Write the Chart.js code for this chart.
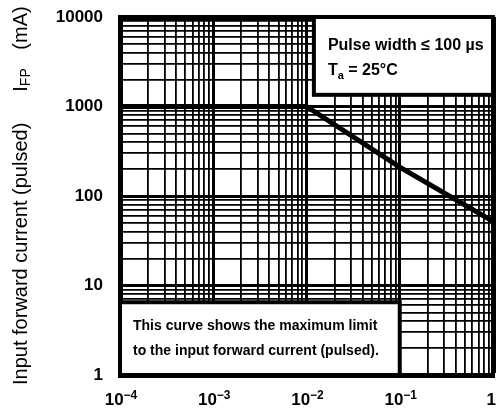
<!DOCTYPE html>
<html>
<head>
<meta charset="utf-8">
<script src="https://cdn.jsdelivr.net/npm/chart.js@4.4.0/dist/chart.umd.min.js"></script>
<style>
  html, body { margin: 0; padding: 0; background: #fff; }
  #wrap { width: 497px; height: 414px; position: relative; }
</style>
</head>
<body>
<div id="wrap"><canvas id="chart"></canvas></div>
<script>
// pulse width (s) vs. maximum pulsed forward current (mA)
const pulseWidth = [1e-4, 1e-2, 1e-1, 1];
const currentMax = [1000, 1000, 210, 52];

// decades and their labels (x labels: base + exponent)
const xDecades = [1e-4, 1e-3, 1e-2, 1e-1, 1];
const xBase = ["10", "10", "10", "10", "1"];
const xExp = ["−4", "−3", "−2", "−1", ""];
const yDecades = [1, 10, 100, 1000, 10000];
const yLabels = ["1", "10", "100", "1000", "10000"];

// texts
const noteTop = ["Pulse width ≤ 100 µs", "T", "a", " = 25°C"];
const noteBottom = ["This curve shows the maximum limit", "to the input forward current (pulsed)."];
const axisTitle = ["Input forward current (pulsed)", "I", "FP", "(mA)"];

const FONT = "'Liberation Sans', Arial, sans-serif";

// 1..9 x 10^n per decade, used for the grid
function logTicks(decades) {
  const out = [];
  for (let i = 0; i < decades.length - 1; i++) {
    for (let k = 1; k <= 9; k++) out.push(k * decades[i]);
  }
  out.push(decades[decades.length - 1]);
  return out;
}

function gridWidth(decades) {
  const last = decades[decades.length - 1];
  return (c) => {
    const v = c.tick ? c.tick.value : null;
    if (v === last) return 5;
    if (decades.indexOf(v) >= 0) return 3;
    return 1.8;
  };
}

const notesPlugin = {
  id: "notes",
  beforeDatasetsDraw(chart) {
    const { ctx, scales } = chart;
    const x = scales.x, y = scales.y;
    function box(x0, x1, y0, y1) {
      const l = x.getPixelForValue(x0), r = x.getPixelForValue(x1);
      const t = y.getPixelForValue(y1), b = y.getPixelForValue(y0);
      ctx.fillStyle = "#fff";
      ctx.fillRect(l, t, r - l, b - t);
      ctx.lineWidth = 4;
      ctx.strokeStyle = "#000";
      ctx.strokeRect(l, t, r - l, b - t);
      return { l, r, t, b };
    }
    ctx.save();
    ctx.fillStyle = "#000";
    ctx.textBaseline = "alphabetic";
    ctx.textAlign = "left";

    // top right note
    const a = box(0.012, 1, 1350, 10000);
    ctx.fillStyle = "#000";
    ctx.font = "bold 16px " + FONT;
    ctx.fillText(noteTop[0], a.l + 14, a.t + 33);
    let px = a.l + 14;
    ctx.fillText(noteTop[1], px, a.t + 58);
    px += ctx.measureText(noteTop[1]).width;
    ctx.font = "bold 11px " + FONT;
    ctx.fillText(noteTop[2], px, a.t + 62);
    px += ctx.measureText(noteTop[2]).width;
    ctx.font = "bold 16px " + FONT;
    ctx.fillText(noteTop[3], px, a.t + 58);

    // bottom left note
    const b = box(1e-4, 0.1, 1, 6.5);
    ctx.fillStyle = "#000";
    ctx.font = "bold 14px " + FONT;
    ctx.fillText(noteBottom[0], b.l + 13, b.t + 28);
    ctx.fillText(noteBottom[1], b.l + 13, b.t + 53);
    ctx.restore();
  },
  afterDraw(chart) {
    const ctx = chart.ctx;
    const x = chart.scales.x;
    ctx.save();
    ctx.fillStyle = "#000";
    ctx.textBaseline = "alphabetic";
    ctx.textAlign = "left";

    // x tick labels with superscript exponents
    const base = x.bottom - 9;
    xDecades.forEach((v, i) => {
      ctx.font = "bold 17px " + FONT;
      const wb = ctx.measureText(xBase[i]).width;
      ctx.font = "bold 12px " + FONT;
      const we = ctx.measureText(xExp[i]).width;
      let l = x.getPixelForValue(v) - (wb + we) / 2 + 1;
      if (l + wb + we > chart.width) l = chart.width - wb - we - 1;
      ctx.font = "bold 17px " + FONT;
      ctx.fillText(xBase[i], l, base);
      ctx.font = "bold 12px " + FONT;
      ctx.fillText(xExp[i], l + wb, base - 6);
    });

    // rotated y title
    ctx.translate(27, 385);
    ctx.rotate(-Math.PI / 2);
    ctx.font = "20px " + FONT;
    ctx.fillText(axisTitle[0], 0, 0);
    const wI = ctx.measureText(axisTitle[1]).width;
    ctx.font = "14px " + FONT;
    const wFP = ctx.measureText(axisTitle[2]).width;
    const s = 385 - 80 - (wI + wFP) / 2;
    ctx.font = "20px " + FONT;
    ctx.fillText(axisTitle[1], s, 0);
    ctx.font = "14px " + FONT;
    ctx.fillText(axisTitle[2], s + wI, 3);
    ctx.font = "20px " + FONT;
    ctx.textAlign = "center";
    ctx.fillText(axisTitle[3], 385 - 28, 0);
    ctx.restore();
  }
};

new Chart(document.getElementById("chart"), {
  type: "line",
  data: {
    datasets: [{
      data: pulseWidth.map((v, i) => ({ x: v, y: currentMax[i] })),
      borderColor: "#000",
      borderWidth: 5,
      pointRadius: 0,
      tension: 0,
      fill: false
    }]
  },
  options: {
    responsive: true,
    maintainAspectRatio: false,
    animation: false,
    layout: { padding: { top: 17, right: 4, left: 0, bottom: 0 } },
    plugins: { legend: { display: false }, tooltip: { enabled: false } },
    scales: {
      x: {
        type: "logarithmic",
        min: xDecades[0],
        max: xDecades[xDecades.length - 1],
        afterBuildTicks: (s) => { s.ticks = logTicks(xDecades).map((v) => ({ value: v })); },
        afterFit: (s) => { s.height = 39; s.paddingLeft = 0; s.paddingRight = 0; },
        grid: { color: "#000", lineWidth: gridWidth(xDecades), drawTicks: false },
        border: { display: true, color: "#000", width: 5 },
        ticks: { autoSkip: false, maxRotation: 0, callback: () => "" }
      },
      y: {
        type: "logarithmic",
        min: yDecades[0],
        max: yDecades[yDecades.length - 1],
        afterBuildTicks: (s) => { s.ticks = logTicks(yDecades).map((v) => ({ value: v })); },
        afterFit: (s) => { s.width = 120; s.paddingTop = 0; s.paddingBottom = 0; },
        grid: { color: "#000", lineWidth: gridWidth(yDecades), drawTicks: false },
        border: { display: true, color: "#000", width: 5 },
        ticks: {
          autoSkip: false,
          padding: 17,
          color: "#000",
          font: { family: FONT, size: 17, weight: "bold" },
          callback: (v) => { const i = yDecades.indexOf(v); return i >= 0 ? yLabels[i] : ""; }
        }
      }
    }
  },
  plugins: [notesPlugin]
});
</script>
</body>
</html>
